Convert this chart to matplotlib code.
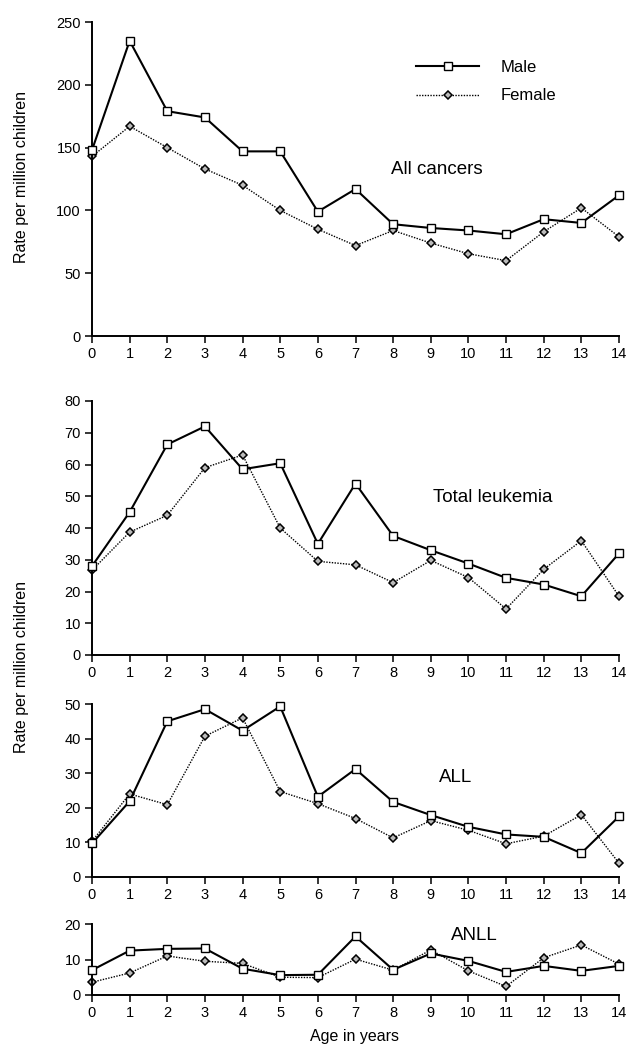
import matplotlib
matplotlib.use("Agg")
import matplotlib.pyplot as plt
from matplotlib.lines import Line2D

plt.rcParams['font.family'] = ['Liberation Sans', 'DejaVu Sans']

ages = list(range(15))
age_labels = [str(a) for a in ages]

all_male = [148, 235, 179, 174, 147, 147, 99, 117, 89, 86, 84, 81, 93, 90, 112]
all_female = [143, 167, 150, 133, 120, 100, 85, 72, 84, 74, 65.5, 60, 83, 102, 79]

leuk_male = [28, 45, 66.3, 72, 58.5, 60.4, 35, 54, 37.5, 33, 28.8, 24.3, 22.2, 18.5, 32]
leuk_female = [26.7, 38.7, 44, 59, 63, 40, 29.5, 28.4, 22.8, 29.8, 24.4, 14.5, 27, 36, 18.5]

all_lymph_male = [9.7, 21.9, 45, 48.5, 42.3, 49.3, 23.2, 31.2, 21.7, 17.9, 14.5, 12.3, 11.6, 6.9, 17.5]
all_lymph_female = [10.3, 24, 20.9, 40.7, 46, 24.7, 21.2, 16.9, 11.3, 16.3, 13.5, 9.6, 11.8, 18, 4]

anll_male = [7, 12.5, 13, 13.1, 7.4, 5.6, 5.7, 16.5, 7.1, 11.7, 9.6, 6.5, 8.2, 6.8, 8.2]
anll_female = [3.6, 6.2, 11, 9.5, 8.9, 5, 4.9, 10.1, 7, 12.7, 6.8, 2.4, 10.5, 14.1, 8.7]

panel_titles = ["All cancers", "Total leukemia", "ALL", "ANLL"]
series_male = [all_male, leuk_male, all_lymph_male, anll_male]
series_female = [all_female, leuk_female, all_lymph_female, anll_female]
ymax = [250, 80, 50, 20]
ystep = [50, 10, 10, 10]

W, H = 629, 1048
fig = plt.figure(figsize=(W / 100, H / 100), dpi=100)

left, right = 92, 619
# (top, bottom) pixel of each axes
panels_px = [(22, 336), (401, 655), (704, 877), (924, 995)]
title_px = [(437, 170), (493, 498), (456, 777), (474, 935)]

def px_axes(top, bottom):
    return [left / W, 1 - bottom / H, (right - left) / W, (bottom - top) / H]

axes = []
for i, (top, bottom) in enumerate(panels_px):
    ax = fig.add_axes(px_axes(top, bottom))
    axes.append(ax)
    ax.plot(ages, series_male[i], color='black', lw=1.5, marker='s', ms=6,
            mfc='white', mec='black', mew=1.0, clip_on=False, zorder=3)
    ax.plot(ages, series_female[i], color='black', lw=1.0, ls=(0, (1, 1)),
            marker='D', ms=3.8, mfc='#bbbbbb', mec='black', mew=1.1,
            clip_on=False, zorder=2)
    ax.set_xlim(0, 14)
    ax.set_ylim(0, ymax[i])
    ax.set_xticks(ages)
    ax.set_xticklabels(age_labels)
    ax.set_yticks(list(range(0, ymax[i] + 1, ystep[i])))
    for s in ['top', 'right']:
        ax.spines[s].set_visible(False)
    for s in ['left', 'bottom']:
        ax.spines[s].set_linewidth(1.4)
    ax.tick_params(direction='out', length=5, width=1.1, labelsize=10.5, pad=3)
    tx, ty = title_px[i]
    fig.text(tx / W, 1 - ty / H, panel_titles[i], fontsize=13.5, ha='center', va='center')

leg = axes[0].legend(handles=[
    Line2D([], [], color='black', lw=1.5, marker='s', ms=6, mfc='white', mec='black', mew=1.0),
    Line2D([], [], color='black', lw=1.0, ls=(0, (1, 1)), marker='D', ms=3.8,
           mfc='#bbbbbb', mec='black', mew=1.1)],
    labels=['Male', 'Female'], loc='upper left',
    bbox_to_anchor=((401 - left) / (right - left), 1 - (45 - 22) / (336 - 22)),
    frameon=False, fontsize=12, handlelength=3.8, handletextpad=1.3, labelspacing=0.8)

fig.text(22 / W, 1 - 177 / H, "Rate per million children", rotation=90,
         fontsize=11.5, ha='center', va='center')
fig.text(22 / W, 1 - 667 / H, "Rate per million children", rotation=90,
         fontsize=11.5, ha='center', va='center')
fig.text(355 / W, 1 - 1037 / H, "Age in years", fontsize=11.5, ha='center', va='center')

fig.savefig("out.png", dpi=100, facecolor='white')
